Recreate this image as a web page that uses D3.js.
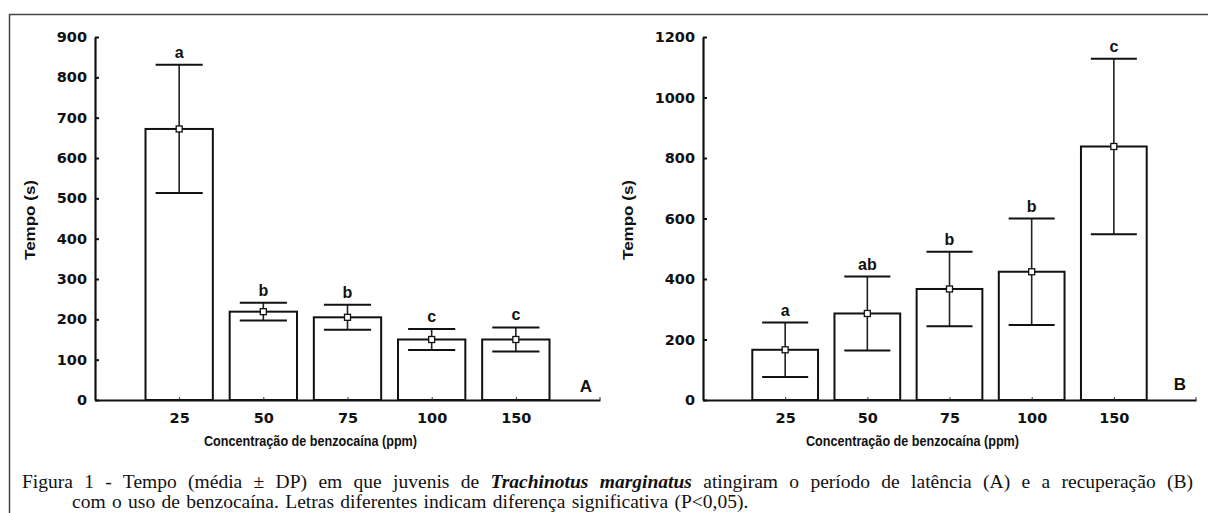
<html>
<head>
<meta charset="utf-8">
<style>
  body { margin: 0; background: #fff; }
  #wrap { position: relative; width: 1208px; height: 513px; overflow: hidden; }
  .cap { position: absolute; font-family: "Liberation Serif", "Times New Roman", serif; font-size: 19.5px; line-height: 20px; color: #111; white-space: nowrap; }
  #cap1 { left: 22px; top: 472px; width: 1171px; text-align: justify; text-align-last: justify; white-space: normal; }
  #cap2 { left: 72px; top: 492px; word-spacing: 1.5px; }
</style>
</head>
<body>
<div id="wrap">
  <svg id="content"></svg>
  <div class="cap" id="cap1">Figura 1 - Tempo (média ± DP) em que juvenis de <b><i>Trachinotus marginatus</i></b> atingiram o período de latência (A) e a recuperação (B)</div>
  <div class="cap" id="cap2">com o uso de benzocaína. Letras diferentes indicam diferença significativa (P&lt;0,05).</div>
</div>

<script src="https://cdn.jsdelivr.net/npm/d3@7"></script>
<script>

let categories = ["25", "50", "75", "100", "150"];

// painel A - latência
let meanA = [672, 219, 205, 150, 150];
let sdA = [159, 22, 31, 26, 30];
let lettersA = ["a", "b", "b", "c", "c"];
let ticksA = [0, 100, 200, 300, 400, 500, 600, 700, 800, 900];

// painel B - recuperação
let meanB = [166, 286, 367, 424, 838];
let sdB = [90, 122, 123, 176, 290];
let lettersB = ["a", "ab", "b", "b", "c"];
let ticksB = [0, 200, 400, 600, 800, 1000, 1200];

let body = d3.select("#content")
    .attr("width", 1208)
    .attr("height", 513)
    .style("position", "absolute")
    .style("left", 0)
    .style("top", 0);

// moldura
body.append("path")
    .attr("d", "M9.5,513 V14.5 H1208")
    .attr("fill", "none")
    .attr("stroke", "#444")
    .attr("stroke-width", 1.5);

drawPanel({
    x0: 95, x1: 600, y0: 400, y1: 37,
    means: meanA, sds: sdA, letters: lettersA,
    ticks: ticksA, max: 900, label: "A", labelX: 586, labelY: 392,
    yTitleX: 30
});

drawPanel({
    x0: 703, x1: 1196, y0: 400, y1: 37,
    means: meanB, sds: sdB, letters: lettersB,
    ticks: ticksB, max: 1200, label: "B", labelX: 1180, labelY: 390,
    yTitleX: 628
});

function drawPanel(p) {

    let x = d3.scalePoint()
        .domain(categories)
        .range([p.x0, p.x1])
        .padding(1);

    let y = d3.scaleLinear()
        .domain([0, p.max])
        .range([p.y0, p.y1]);

    let step = x.step();
    let barW = step * 0.8;
    let capW = step * 0.56;

    let g = body.append("g");

    let data = categories.map((c, i) => ({ c: c, m: p.means[i], sd: p.sds[i], l: p.letters[i] }));

    // barras
    g.selectAll("rect.bar")
        .data(data)
        .enter()
        .append("rect")
        .attr("class", "bar")
        .attr("x", d => x(d.c) - barW / 2)
        .attr("y", d => y(d.m))
        .attr("width", barW)
        .attr("height", d => y(0) - y(d.m))
        .attr("fill", "white")
        .attr("stroke", "#111")
        .attr("stroke-width", 2);

    // eixo x
    let xAxis = d3.axisBottom(x).tickSizeInner(-3).tickSizeOuter(0).tickPadding(10);
    let gx = g.append("g")
        .attr("transform", `translate(0, ${p.y0})`)
        .call(xAxis);
    gx.select(".domain").attr("stroke", "#111").attr("stroke-width", 2.2);
    gx.selectAll(".tick line").attr("stroke", "#333").attr("stroke-width", 1);
    gx.selectAll(".tick text")
        .attr("font-family", "DejaVu Sans, sans-serif")
        .attr("font-weight", "bold")
        .attr("font-size", 14.5)
        .attr("fill", "#111")
        .attr("dy", "0.9em");
    g.append("line")
        .attr("x1", p.x1).attr("x2", p.x1)
        .attr("y1", p.y0).attr("y2", p.y0 - 3)
        .attr("stroke", "#333");

    // eixo y
    let yAxis = d3.axisLeft(y).tickValues(p.ticks).tickFormat(d3.format("d"))
        .tickSizeInner(-4).tickSizeOuter(0).tickPadding(8);
    let gy = g.append("g")
        .attr("transform", `translate(${p.x0}, 0)`)
        .call(yAxis);
    gy.select(".domain").attr("stroke", "#111").attr("stroke-width", 2.2);
    gy.selectAll(".tick line").attr("stroke", "#111").attr("stroke-width", 2);
    gy.selectAll(".tick text")
        .attr("font-family", "DejaVu Sans, sans-serif")
        .attr("font-weight", "bold")
        .attr("font-size", 14.5)
        .attr("fill", "#111");

    // barras de erro
    let err = g.selectAll("g.err")
        .data(data)
        .enter()
        .append("g")
        .attr("class", "err");

    err.append("line")
        .attr("x1", d => x(d.c)).attr("x2", d => x(d.c))
        .attr("y1", d => y(d.m + d.sd)).attr("y2", d => y(d.m - d.sd))
        .attr("stroke", "#222").attr("stroke-width", 1.6);

    err.append("line")
        .attr("x1", d => x(d.c) - capW / 2).attr("x2", d => x(d.c) + capW / 2)
        .attr("y1", d => y(d.m + d.sd)).attr("y2", d => y(d.m + d.sd))
        .attr("stroke", "#111").attr("stroke-width", 2);

    err.append("line")
        .attr("x1", d => x(d.c) - capW / 2).attr("x2", d => x(d.c) + capW / 2)
        .attr("y1", d => y(d.m - d.sd)).attr("y2", d => y(d.m - d.sd))
        .attr("stroke", "#111").attr("stroke-width", 2);

    err.append("rect")
        .attr("x", d => x(d.c) - 3)
        .attr("y", d => y(d.m) - 3)
        .attr("width", 6)
        .attr("height", 6)
        .attr("fill", "white")
        .attr("stroke", "#111")
        .attr("stroke-width", 1.3);

    err.append("text")
        .text(d => d.l)
        .attr("x", d => x(d.c))
        .attr("y", d => y(d.m + d.sd) - 7)
        .attr("text-anchor", "middle")
        .attr("font-family", "Liberation Sans, Arial, sans-serif")
        .attr("font-weight", "bold")
        .attr("font-size", 16)
        .attr("fill", "#111");

    // letra do painel
    g.append("text")
        .text(p.label)
        .attr("x", p.labelX)
        .attr("y", p.labelY)
        .attr("text-anchor", "middle")
        .attr("font-family", "Liberation Sans, Arial, sans-serif")
        .attr("font-weight", "bold")
        .attr("font-size", 17)
        .attr("fill", "#111");

    // títulos dos eixos
    g.append("text")
        .text("Concentração de benzocaína (ppm)")
        .attr("x", (p.x0 + p.x1) / 2 - 37)
        .attr("y", 446)
        .attr("text-anchor", "middle")
        .attr("textLength", 213)
        .attr("lengthAdjust", "spacingAndGlyphs")
        .attr("font-family", "Liberation Sans, Arial, sans-serif")
        .attr("font-weight", "bold")
        .attr("font-size", 14)
        .attr("fill", "#111");

    g.append("text")
        .text("Tempo (s)")
        .attr("transform", `translate(${p.yTitleX + 5}, 220) rotate(-90)`)
        .attr("text-anchor", "middle")
        .attr("textLength", 80)
        .attr("lengthAdjust", "spacingAndGlyphs")
        .attr("font-family", "Liberation Sans, Arial, sans-serif")
        .attr("font-weight", "bold")
        .attr("font-size", 15)
        .attr("fill", "#111");
}

</script>
</body>
</html>
